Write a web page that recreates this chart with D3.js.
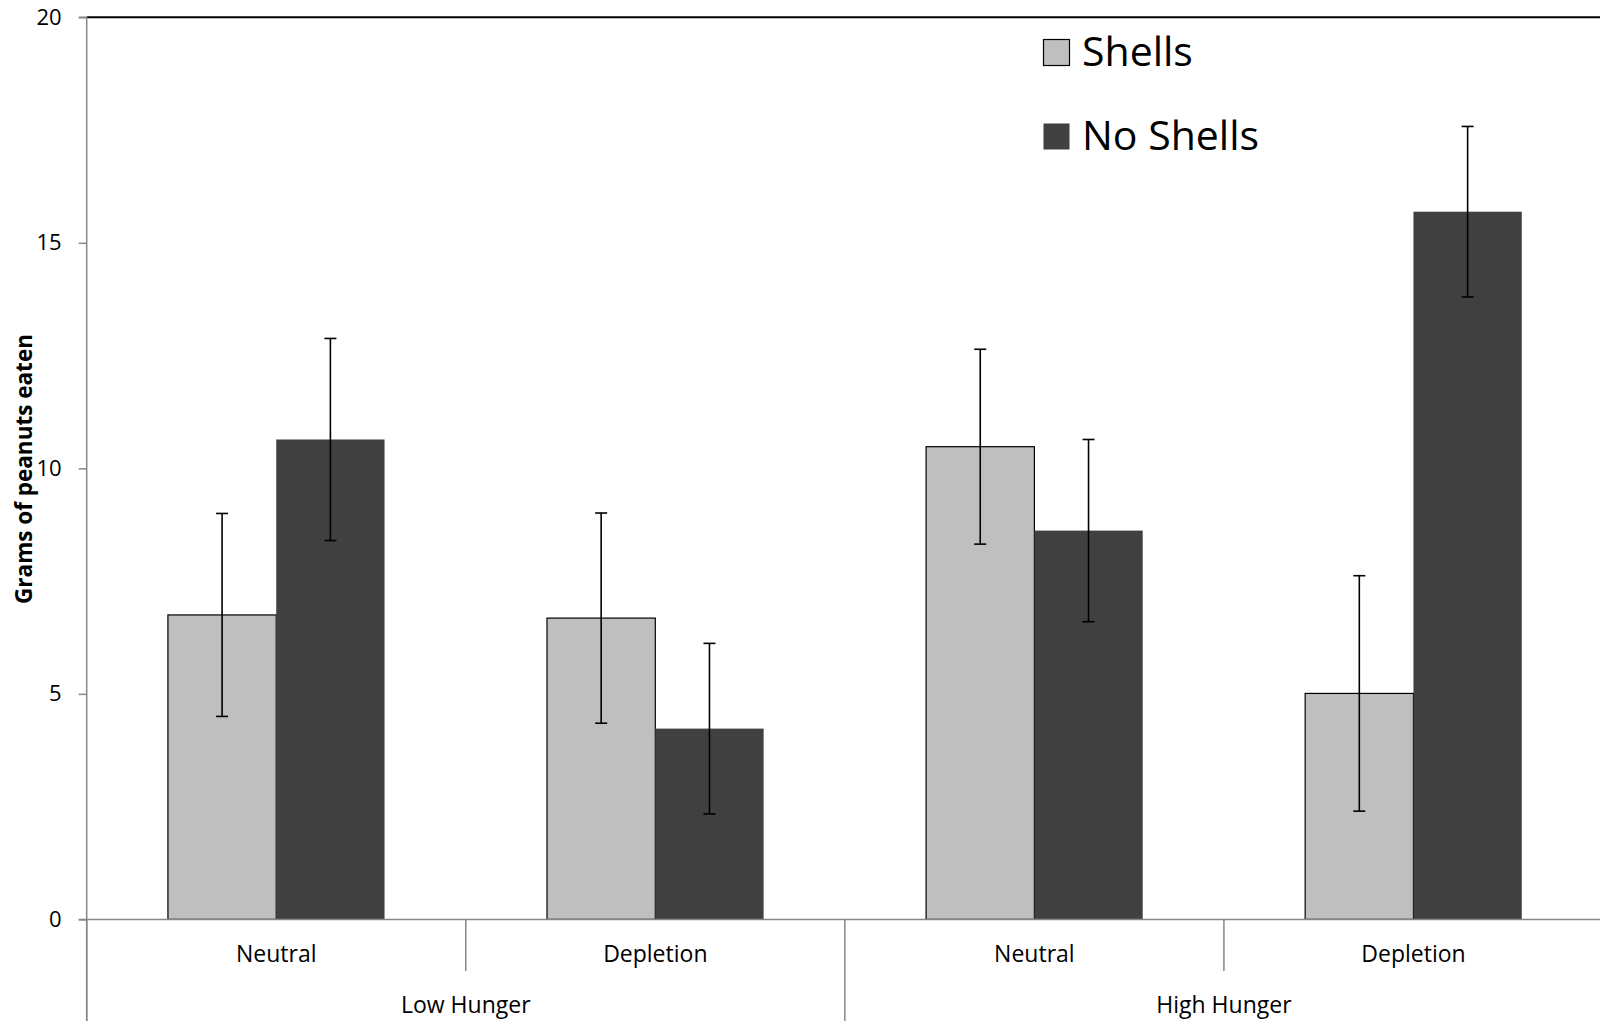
<!DOCTYPE html>
<html>
<head>
<meta charset="utf-8">
<script src="https://cdn.jsdelivr.net/npm/d3@7"></script>
<style>
  html, body { margin: 0; padding: 0; background: #fff; }
  svg { display: block; }
  text { font-family: "Open Sans", sans-serif; fill: #000; }
</style>
</head>
<body>
<div id="chart"></div>
<script>
const categories = ["Neutral", "Depletion", "Neutral", "Depletion"];
const groups = ["Low Hunger", "High Hunger"];
const seriesNames = ["Shells", "No Shells"];
const shellsValues = [6.75, 6.68, 10.48, 5.01];
const noShellsValues = [10.64, 4.23, 8.62, 15.69];
const shellsErrors = [2.25, 2.33, 2.16, 2.61];
const noShellsErrors = [2.24, 1.89, 2.02, 1.89];
const yTicks = [0, 5, 10, 15, 20];
const yLabel = "Grams of peanuts eaten";

(function () {
const W = 1600, H = 1021;
const mLeft = 86.7, mRight = 1603, mTop = 17.3, mBottom = 919.4;
const colors = { "Shells": "#bfbfbf", "No Shells": "#404040" };

const svg = d3.select("#chart").append("svg").attr("width", W).attr("height", H);

const catIdx = categories.map((_, i) => i);
const x0 = d3.scaleBand().domain(catIdx).range([mLeft, mRight]).padding(0);
const x1 = d3.scaleBand().domain(seriesNames).range([0, x0.bandwidth()]).paddingInner(0).paddingOuter(0.75);
const y = d3.scaleLinear().domain([0, 20]).range([mBottom, mTop]);

const data = catIdx.map(i => ({
  i,
  values: [
    { name: "Shells", v: shellsValues[i], e: shellsErrors[i] },
    { name: "No Shells", v: noShellsValues[i], e: noShellsErrors[i] }
  ]
}));

// top border
svg.append("line").attr("x1", mLeft).attr("x2", W).attr("y1", y(20)).attr("y2", y(20))
  .attr("stroke", "#000").attr("stroke-width", 2);

// bars
const g = svg.append("g");
const cat = g.selectAll("g.cat").data(data).enter().append("g")
  .attr("transform", d => `translate(${x0(d.i)},0)`);
cat.selectAll("rect").data(d => d.values).enter().append("rect")
  .attr("x", d => x1(d.name))
  .attr("width", x1.bandwidth())
  .attr("y", d => y(d.v))
  .attr("height", d => y(0) - y(d.v))
  .attr("fill", d => colors[d.name])
  .attr("stroke", d => d.name === "Shells" ? "#000" : "none")
  .attr("stroke-width", 1.2);

// error bars
const eb = cat.selectAll("g.err").data(d => d.values).enter().append("g")
  .attr("transform", d => `translate(${x1(d.name) + x1.bandwidth() / 2},0)`);
eb.append("line").attr("x1", 0).attr("x2", 0)
  .attr("y1", d => y(d.v + d.e)).attr("y2", d => y(d.v - d.e))
  .attr("stroke", "#000").attr("stroke-width", 1.6);
eb.append("line").attr("x1", -6).attr("x2", 6)
  .attr("y1", d => y(d.v + d.e)).attr("y2", d => y(d.v + d.e))
  .attr("stroke", "#000").attr("stroke-width", 1.6);
eb.append("line").attr("x1", -6).attr("x2", 6)
  .attr("y1", d => y(d.v - d.e)).attr("y2", d => y(d.v - d.e))
  .attr("stroke", "#000").attr("stroke-width", 1.6);

// y axis
const yAxis = d3.axisLeft(y).tickValues(yTicks).tickSize(8).tickPadding(17);
const ya = svg.append("g").attr("transform", `translate(${mLeft},0)`).call(yAxis);
ya.select(".domain").attr("stroke", "#868686").attr("stroke-width", 1.5)
  .attr("d", `M-8,${mTop}H0V${H}`);
ya.selectAll(".tick line").attr("stroke", "#868686").attr("stroke-width", 1.5);
ya.selectAll(".tick text").style("font-family", "'Open Sans', sans-serif")
  .style("font-size", "22px").attr("fill", "#000");

// x axis baseline
svg.append("line").attr("x1", mLeft - 8).attr("x2", W).attr("y1", mBottom).attr("y2", mBottom)
  .attr("stroke", "#868686").attr("stroke-width", 1.5);

// category separators
const bounds = d3.range(categories.length + 1).map(k => mLeft + k * x0.step());
bounds.forEach((bx, k) => {
  const long = k % 2 === 0;
  svg.append("line").attr("x1", bx).attr("x2", bx)
    .attr("y1", mBottom).attr("y2", long ? H : 971)
    .attr("stroke", "#868686").attr("stroke-width", 1.5);
});

// category labels
svg.selectAll("text.cat").data(catIdx).enter().append("text")
  .attr("class", "cat")
  .attr("x", i => x0(i) + x0.bandwidth() / 2)
  .attr("y", 962)
  .attr("text-anchor", "middle")
  .style("font-size", "23px")
  .text(i => categories[i]);

// group labels
svg.selectAll("text.grp").data(groups).enter().append("text")
  .attr("class", "grp")
  .attr("x", (d, k) => x0(k * 2) + x0.step())
  .attr("y", 1013)
  .attr("text-anchor", "middle")
  .style("font-size", "23px")
  .text(d => d);

// y label
svg.append("text")
  .attr("transform", `translate(32,469) rotate(-90)`)
  .attr("text-anchor", "middle")
  .style("font-size", "22.5px")
  .style("font-weight", "bold")
  .text(yLabel);

// legend
const legend = svg.append("g");
const ly = [39, 123];
seriesNames.forEach((name, k) => {
  legend.append("rect").attr("x", 1043.5).attr("y", ly[k] + 0.5).attr("width", 26).attr("height", 26)
    .attr("fill", colors[name]).attr("stroke", name === "Shells" ? "#000" : "none").attr("stroke-width", 1.2);
  legend.append("text").attr("x", 1082).attr("y", ly[k] + 27)
    .style("font-size", "41px").text(name);
});
})();
</script>
</body>
</html>
